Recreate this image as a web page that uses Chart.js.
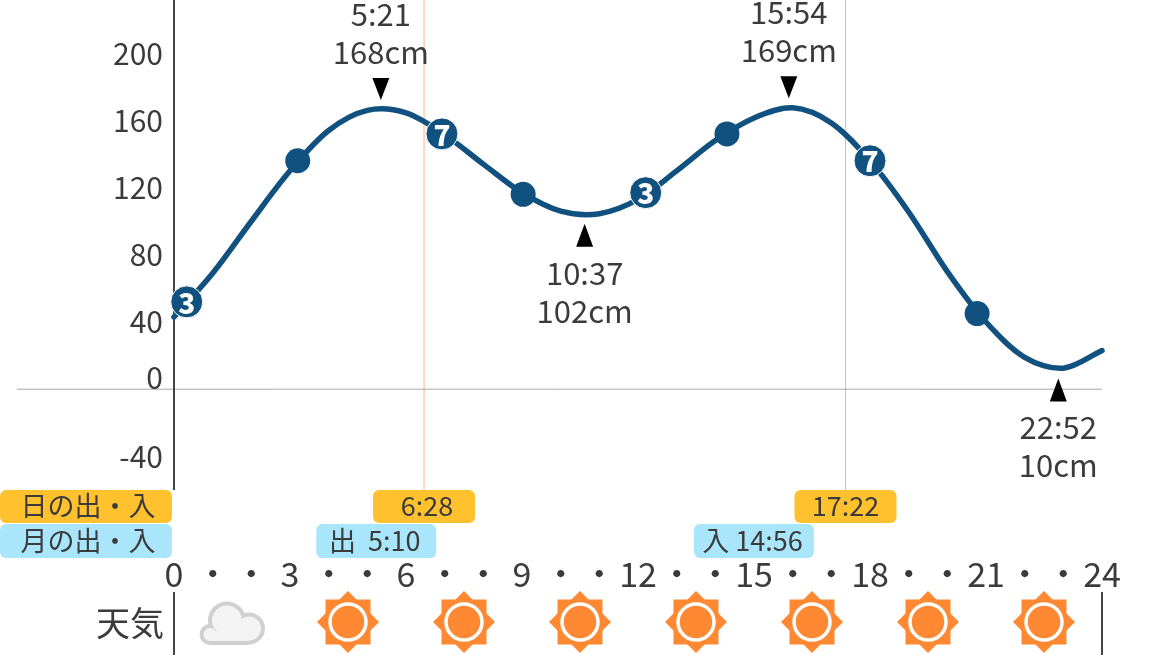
<!DOCTYPE html>
<html><head><meta charset="utf-8">
<style>html,body{margin:0;padding:0;background:#fff;overflow:hidden}canvas{display:block}</style>
<script src="https://cdn.jsdelivr.net/npm/chart.js@4"></script></head>
<body><canvas id="c" width="1160" height="655"></canvas>
<script>
const tideHours=[0,1,2,3,4,5,6,7,8,9,10,11,12,13,14,15,16,17,18,19,20,21,22,23,24];
const tideValues=[43,69,100,130,154,166,164.5,151.5,134,117,106,104.5,113,130,148,161.5,167.5,158.5,136,105.5,70,40,19,12.5,23];
const markerHours=[0.33,3.2,6.93,9.03,12.2,14.3,18,20.77];
const markerValues=[52,136,152,116,117,152,136,45];
const markerLabels=['3','','7','','3','','7',''];
const extremeHours=[5.35,10.62,15.9,22.87];
const extremeValues=[168,102,169,10];
const extremeTimes=['5:21','10:37','15:54','22:52'];
const extremeHeights=['168cm','102cm','169cm','10cm'];
const extremeKinds=['high','low','high','low'];
const yTicks=[-40,0,40,80,120,160,200];
const xTicks=[0,1,2,3,4,5,6,7,8,9,10,11,12,13,14,15,16,17,18,19,20,21,22,23,24];
const sunHours=[6.4667,17.3667];
const sunLabels=[' 6:28','17:22'];
const moonHours=[5.1667,14.9333];
const moonLabels=['出  5:10','入 14:56'];
const weatherHours=[1.5,4.5,7.5,10.5,13.5,16.5,19.5,22.5];
const weatherKinds=['cloud','sun','sun','sun','sun','sun','sun','sun'];

const FONT='"Noto Sans CJK JP","Noto Sans",sans-serif';
const TEXT='#3b3b3b', NAVY='#115180';
function rr(ctx,x,y,w,h,r){ctx.beginPath();ctx.roundRect(x,y,w,h,r);ctx.fill();}
function txt(ctx,s,x,y,size,align,weight){ctx.font=(weight||'400')+' '+size+'px '+FONT;ctx.textAlign=align||'center';ctx.textBaseline='middle';ctx.fillText(s,x,y);}

function sun(ctx,x,y){
  ctx.save();ctx.translate(x,y);ctx.fillStyle='#FF8833';
  ctx.fillRect(-22.5,-22.5,45,45);
  ctx.beginPath();ctx.moveTo(0,-31);ctx.lineTo(31,0);ctx.lineTo(0,31);ctx.lineTo(-31,0);ctx.closePath();ctx.fill();
  ctx.beginPath();ctx.arc(0,0,18,0,Math.PI*2);ctx.strokeStyle='#fff';ctx.lineWidth=3.5;ctx.stroke();
  ctx.restore();
}
function cloud(ctx,x,y){
  const parts=(d,col)=>{ctx.fillStyle=col;
    [[-5,-2,19],[17,6,16],[-22,12,10.5]].forEach(c=>{ctx.beginPath();ctx.arc(x+c[0],y+c[1],c[2]-d,0,Math.PI*2);ctx.fill();});
    ctx.fillRect(x-22,y+5+d,39,17.5-2*d+0);
  };
  parts(0,'#d0d0d0');parts(4,'#f3f3f3');
}
function noPad(a){a.paddingLeft=0;a.paddingRight=0;a.paddingTop=0;a.paddingBottom=0;}

const decor={id:'decor',
  beforeDatasetsDraw(ch){
    const c=ch.ctx,X=ch.scales.x,Y=ch.scales.y,y0=Y.getPixelForValue(0),b=ch.chartArea.bottom;
    c.save();
    c.strokeStyle='#ffb08a';c.lineWidth=1;
    sunHours.forEach(h=>{const p=X.getPixelForValue(h);c.beginPath();c.moveTo(p,0);c.lineTo(p,b);c.stroke();});
    c.strokeStyle='#a8a8a8';c.lineWidth=1;c.beginPath();c.moveTo(17,y0);c.lineTo(X.right,y0);c.stroke();
    c.strokeStyle='#444';c.lineWidth=2;
    const l=X.getPixelForValue(0),r=X.getPixelForValue(24);
    c.beginPath();c.moveTo(l,0);c.lineTo(l,b);c.moveTo(l,592);c.lineTo(l,655);c.moveTo(r,592);c.lineTo(r,655);c.stroke();
    c.fillStyle=TEXT;txt(c,'0',X.left-11,y0-12,30,'right');
    c.restore();
  },
  afterDatasetsDraw(ch){
    const c=ch.ctx,X=ch.scales.x,Y=ch.scales.y;
    c.save();
    const pts=ch.getDatasetMeta(1).data;
    c.fillStyle='#fff';
    pts.forEach((p,i)=>{if(markerLabels[i])txt(c,markerLabels[i],p.x,p.y+1,28,'center','900');});
    extremeHours.forEach((h,i)=>{
      const x=X.getPixelForValue(h),ly=Y.getPixelForValue(extremeValues[i]);
      c.fillStyle='#000';c.beginPath();
      if(extremeKinds[i]==='high'){const tip=ly-7;c.moveTo(x,tip);c.lineTo(x-8.5,tip-22);c.lineTo(x+8.5,tip-22);
        c.closePath();c.fill();c.fillStyle=TEXT;txt(c,extremeTimes[i],x,tip-86,31);txt(c,extremeHeights[i],x,tip-48,31);}
      else{const tip=ly+6;c.moveTo(x,tip);c.lineTo(x-8.5,tip+23);c.lineTo(x+8.5,tip+23);
        c.closePath();c.fill();c.fillStyle=TEXT;txt(c,extremeTimes[i],x,tip+49,31);txt(c,extremeHeights[i],x,tip+87,31);}
    });
    c.fillStyle='#FFC22E';rr(c,0,490,172,33,6);
    sunHours.forEach(h=>{const x=X.getPixelForValue(h);c.fillStyle='#FFC22E';rr(c,x-51,490,102,33,6);});
    c.fillStyle='#A9E6FB';rr(c,0,524,172,34,6);
    moonHours.forEach(h=>{const x=X.getPixelForValue(h)+2.5;c.fillStyle='#A9E6FB';rr(c,x-60,524,120,34,6);});
    c.fillStyle=TEXT;
    txt(c,'日の出・入',88,506,27);txt(c,'月の出・入',88,541,27);
    sunHours.forEach((h,i)=>txt(c,sunLabels[i],X.getPixelForValue(h),506,27));
    moonHours.forEach((h,i)=>txt(c,moonLabels[i],X.getPixelForValue(h)+1,541,27));
    txt(c,'天気',164,623.5,34,'right');
    weatherHours.forEach((h,i)=>{const x=X.getPixelForValue(h);weatherKinds[i]==='sun'?sun(c,x,622):cloud(c,x,622.5);});
    c.restore();
  }
};

new Chart(document.getElementById('c'),{
  type:'line',
  data:{datasets:[
    {data:tideHours.map((h,i)=>({x:h,y:tideValues[i]})),borderColor:NAVY,borderWidth:5.5,tension:0.33,pointRadius:0,borderCapStyle:'round',clip:false,order:2},
    {data:markerHours.map((h,i)=>({x:h,y:markerValues[i]})),showLine:false,order:1,clip:false,
     pointBackgroundColor:NAVY,
     pointBorderColor:ctx=>markerLabels[ctx.dataIndex]?'#fff':NAVY,
     pointBorderWidth:ctx=>markerLabels[ctx.dataIndex]?1:0,
     pointRadius:ctx=>markerLabels[ctx.dataIndex]?16:12.5}
  ]},
  options:{
    responsive:false,animation:false,devicePixelRatio:1,
    layout:{autoPadding:false,padding:{left:0,right:58,top:0,bottom:0}},
    plugins:{legend:{display:false},tooltip:{enabled:false},title:{display:false}},
    scales:{
      x:{type:'linear',min:0,max:24,
        afterBuildTicks:a=>{a.ticks=xTicks.map(v=>({value:v}));},
        afterFit:a=>{a.height=165;noPad(a);},
        grid:{display:false,drawTicks:false,tickLength:0},border:{display:false},
        ticks:{autoSkip:false,maxRotation:0,minRotation:0,padding:64,color:TEXT,
          font:{family:FONT,size:34},
          callback:v=>v%3===0?String(v):'・'}},
      y:{type:'linear',min:-60,max:231.7,
        afterBuildTicks:a=>{a.ticks=yTicks.map(v=>({value:v}));},
        afterFit:a=>{a.width=174;noPad(a);},
        grid:{display:false,drawTicks:false,tickLength:0},border:{display:false},
        ticks:{autoSkip:false,padding:11,color:TEXT,font:{family:FONT,size:30},
          callback:v=>v===0?'':String(v)}}
    }
  },
  plugins:[decor]
});
</script></body></html>
